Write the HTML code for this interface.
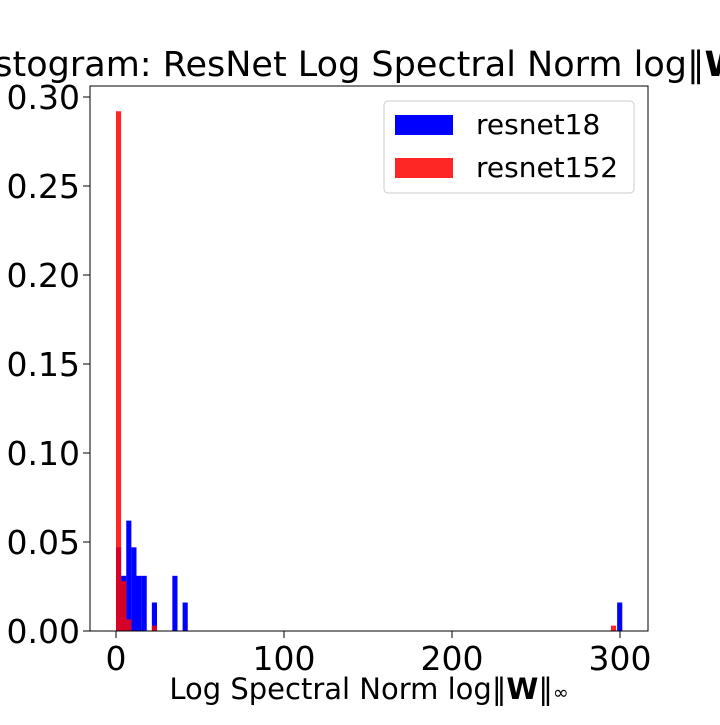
<!DOCTYPE html>
<html><head><meta charset="utf-8"><style>
body{margin:0;background:#fff;}
svg text{font-family:"DejaVu Sans","Liberation Sans",sans-serif;}
</style></head><body>
<svg id="chart" width="720" height="720" xmlns="http://www.w3.org/2000/svg">
<rect width="720" height="720" fill="#fff"/>
<text x="369" y="76" font-size="35" text-anchor="middle">Histogram: ResNet Log Spectral Norm log‖<tspan font-weight="bold">W</tspan>‖<tspan font-size="23">∞</tspan></text>
<g id="bars"></g>
<rect x="90" y="86" width="558" height="545" fill="none" stroke="#000" stroke-width="1"/>
<g id="axes"></g>
<text x="369" y="699" font-size="29" text-anchor="middle">Log Spectral Norm log‖<tspan font-weight="bold">W</tspan>‖<tspan font-size="19">∞</tspan></text>
<g>
<rect x="384" y="101" width="250" height="92" rx="4" fill="#fff" fill-opacity="0.8" stroke="#ccc"/>
<rect x="395" y="115" width="58" height="20" fill="#0000ff"/>
<text x="476" y="134" font-size="28">resnet18</text>
<rect x="395" y="158" width="58" height="20" fill="#ff0000" fill-opacity="0.85"/>
<text x="476" y="177" font-size="28">resnet152</text>
</g>
</svg>
<script>
const binWidth = 3.05;
const blueLefts = [0, 3.05, 6.1, 9.15, 12.2, 15.25, 21.35, 33.55, 39.65, 298.3];
const blueHeights = [0.047, 0.031, 0.062, 0.047, 0.031, 0.031, 0.016, 0.031, 0.016, 0.016];
const redLefts = [0, 3.05, 6.1, 21.35, 294.6];
const redHeights = [0.292, 0.028, 0.0065, 0.003, 0.003];
const xTicks = [0, 100, 200, 300];
const yTicks = [0, 0.05, 0.10, 0.15, 0.20, 0.25, 0.30];
const yTickLabels = ["0.00","0.05","0.10","0.15","0.20","0.25","0.30"];

const X = v => 116 + v * 1.68;
const Y = v => 631 - v * 1780;
const NS = "http://www.w3.org/2000/svg";
const bars = document.getElementById('bars');
const axes = document.getElementById('axes');
function mk(tag, attrs, parent){const e=document.createElementNS(NS,tag);for(const k in attrs)e.setAttribute(k,attrs[k]);parent.appendChild(e);return e;}
blueLefts.forEach((l,i)=>{
  const r = mk('rect',{x:X(l),y:Y(blueHeights[i]),width:X(l+binWidth)-X(l),height:Y(0)-Y(blueHeights[i]),fill:'#0000ff'},bars);
  
  
});
redLefts.forEach((l,i)=>{
  const r = mk('rect',{x:X(l),y:Y(redHeights[i]),width:X(l+binWidth)-X(l),height:Y(0)-Y(redHeights[i]),fill:'#ff0000','fill-opacity':0.85},bars);
  
  
});
xTicks.forEach(t=>{
  const l = mk('line',{x1:X(t),x2:X(t),y1:631,y2:638,stroke:'#000'},axes);
  
  
  const tx = mk('text',{x:X(t),y:670,'font-size':33,'text-anchor':'middle'},axes);
  tx.textContent = t;
  
  
});
yTicks.forEach((t,i)=>{
  const l = mk('line',{x1:83,x2:90,y1:Y(t),y2:Y(t),stroke:'#000'},axes);
  
  
  const tx = mk('text',{x:80,y:Y(t)+12,'font-size':33,'text-anchor':'end'},axes);
  tx.textContent = yTickLabels[i];
  
  
});
</script>
</body></html>
